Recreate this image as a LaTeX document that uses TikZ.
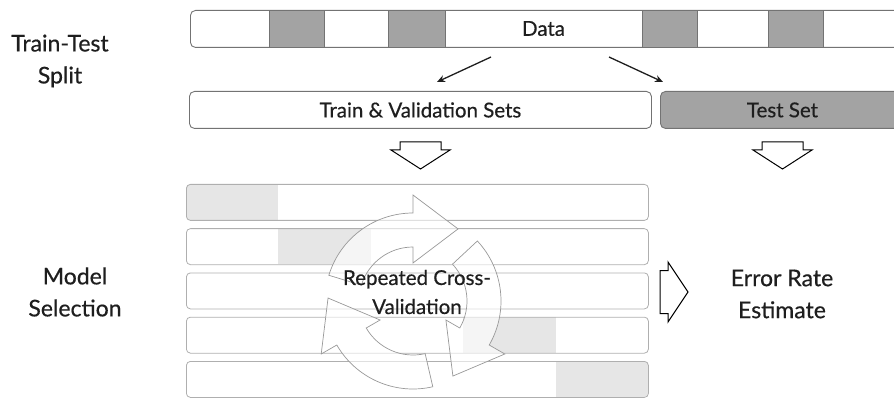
\documentclass[tikz,border=0pt]{standalone}
\usepackage{fontspec}
\setmainfont{Lato}[FakeBold=0.5]
\usetikzlibrary{positioning,arrows.meta}
\definecolor{darkseg}{RGB}{163,163,163}
\definecolor{lightseg}{RGB}{230,230,230}
\definecolor{edgegray}{RGB}{115,115,115}
\definecolor{rowgray}{RGB}{175,175,175}
\definecolor{inkgray}{RGB}{30,30,30}

\tikzset{
  blockdown/.pic={
    \draw[line width=1pt, fill=white]
      (-20.5,0) -- (20.5,0) -- (20.5,8) -- (29.5,8) -- (0,27) -- (-29.5,8) -- (-20.5,8) -- cycle;
  },
  blockright/.pic={
    \draw[line width=1pt, fill=white]
      (0,-21.5) -- (8,-21.5) -- (8,-30) -- (28,0) -- (8,30) -- (8,21.5) -- (0,21.5) -- cycle;
  },
}

\begin{document}
\begin{tikzpicture}[x=1pt, y=-1pt,
  bar/.style={draw=edgegray, line width=0.9pt, rounded corners=5pt, fill=white,
    inner sep=0pt, anchor=north west, minimum height=37pt,
    font=\fontsize{20.5}{24}\selectfont, text=inkgray},
  row/.style={draw=rowgray, line width=0.8pt, rounded corners=4pt,
    inner sep=0pt, anchor=north west, minimum width=462pt, minimum height=36pt},
  side/.style={font=\fontsize{23}{32}\selectfont, text=inkgray, align=center},
  cyc/.style={draw=gray!80, line width=0.7pt, fill=white, fill opacity=0.6},
  tip/.style={-{Stealth[length=8pt,width=7pt]}, line width=1.3pt, inkgray},
]
  \useasboundingbox (0,0) rectangle (894,398);
  \clip (0,0) rectangle (894,398);

  % Data bar with held-out folds
  \node[bar, minimum width=730pt] (data) at (190,10) {};
  \foreach \a/\b in {269/324, 388/445, 642/697, 768/823}
    \draw[draw=edgegray, line width=0.9pt, fill=darkseg] (\a,10) rectangle (\b,47);
  \node[font=\fontsize{20.5}{24}\selectfont, text=inkgray] (datatxt) at (543.5,28.5) {Data};

  % Split
  \node[bar, minimum width=462pt] (trainval) at (189,91) {Train \& Validation Sets};
  \node[bar, fill=darkseg, minimum width=244pt] (test) at (660,91) {Test Set};

  \coordinate (s1) at (491,57);
  \coordinate (e1) at (437,82);
  \coordinate (s2) at (609,57);
  \coordinate (e2) at (663,82);
  \draw[tip] (s1) -- (e1);
  \draw[tip] (s2) -- (e2);

  \pic (down1) at (420.5,142) {blockdown};
  \pic (down2) at (782.5,142) {blockdown};

  % Cross-validation rows
  \foreach \i/\a in {0/186, 1/278.4, 3/463.2, 4/555.6}{
    \begin{scope}
      \clip[rounded corners=4pt] (186,{184+44.25*\i}) rectangle ++(462,36);
      \fill[lightseg] (\a,{184+44.25*\i}) rectangle ++(92.4,36);
    \end{scope}
  }
  \foreach \i in {0,...,4}
    \node[row] (row\i) at (186,{184+44.25*\i}) {};

  % Cycle symbol
  \begin{scope}[shift={(413,301)}, yscale=-1]
    \foreach \t in {163, 43, -77}
      \draw[cyc] (\t:88) arc[start angle=\t, end angle={\t-73}, radius=88]
        -- ({\t-73}:106) -- ({\t-105}:85) -- ({\t-73}:38) -- ({\t-73}:54)
        arc[start angle={\t-73}, end angle=\t, radius=54] -- cycle;
  \end{scope}
  \node[font=\fontsize{20.5}{29}\selectfont, text=inkgray, align=center] (cvtxt)
    at (417,292) {Repeated Cross-\\Validation};

  \pic (right1) at (660,292) {blockright};

  % Side labels
  \node[side] (split) at (60,61) {Train-Test\\Split};
  \node[side] (select) at (75,292) {Model\\Selection};
  \node[side] (err) at (782,294) {Error Rate\\Estimate};
\end{tikzpicture}
\end{document}
